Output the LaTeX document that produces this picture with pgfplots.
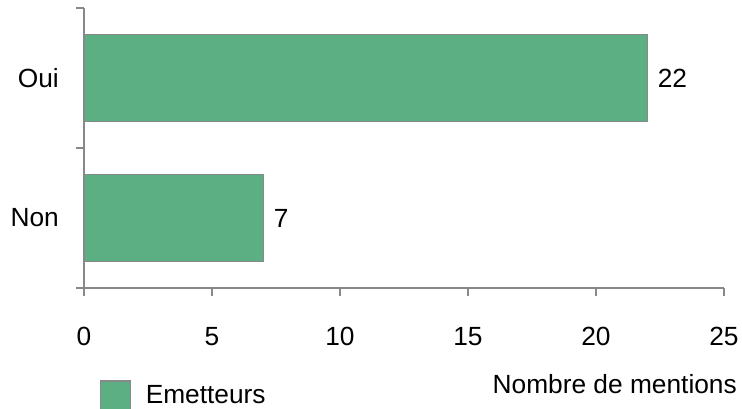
\documentclass[border=0pt]{standalone}
\usepackage{pgfplots}
\pgfplotsset{compat=1.18}
\usepackage{fontspec}
\setmainfont{Liberation Sans}
\definecolor{barg}{RGB}{91,175,131}
\definecolor{axg}{RGB}{136,136,136}
\newcommand{\cf}{\fontsize{26.3}{31}\selectfont}
\begin{document}
\cf
\begin{tikzpicture}
\begin{axis}[
  at={(0pt,0pt)}, anchor=south west,
  scale only axis, width=640pt, height=280pt,
  xmin=0, xmax=25, ymin=-0.5, ymax=1.5,
  xbar, bar width=87pt,
  axis x line*=bottom, axis y line*=left,
  axis line style={axg, line width=1.2pt},
  tick style={axg, line width=1.2pt},
  tick align=outside, major tick length=8pt,
  xtick={0,5,10,15,20,25},
  ytick={-0.5,0.5,1.5}, yticklabels={,,},
  extra y ticks={0,1}, extra y tick labels={Non,Oui},
  extra y tick style={major tick length=0pt},
  xticklabel style={anchor=center, yshift=-40.5pt},
  yticklabel style={anchor=east, inner sep=0pt, xshift=-25pt},
  /pgf/number format/assume math mode=true,
  ticklabel style={font=\cf},
  xlabel={Nombre de mentions},
  xlabel style={at={(axis description cs:1,-0.343)}, anchor=east, inner sep=0pt, xshift=13pt, font=\cf},
  nodes near coords,
  nodes near coords style={font=\cf, anchor=west, inner sep=0pt, xshift=10pt},
  legend style={draw=none, fill=none, inner sep=0pt, anchor=west, at={(axis description cs:0.025,-0.386)}, font=\cf, legend cell align=left},
  legend image code/.code={\draw[fill=barg, draw=axg, line width=1.2pt] (0pt,-15pt) rectangle (30pt,15pt);\path[draw=none, fill=none] (0pt,0pt) -- (43pt,0pt);},
  clip=false,
]
\addplot[fill=barg, draw=axg, line width=1.2pt] coordinates {(7,0) (22,1)};
\addlegendentry{Emetteurs}
\end{axis}
\pgfresetboundingbox
\useasboundingbox (-84pt,-120pt) rectangle (658pt,288pt);
\end{tikzpicture}
\end{document}
